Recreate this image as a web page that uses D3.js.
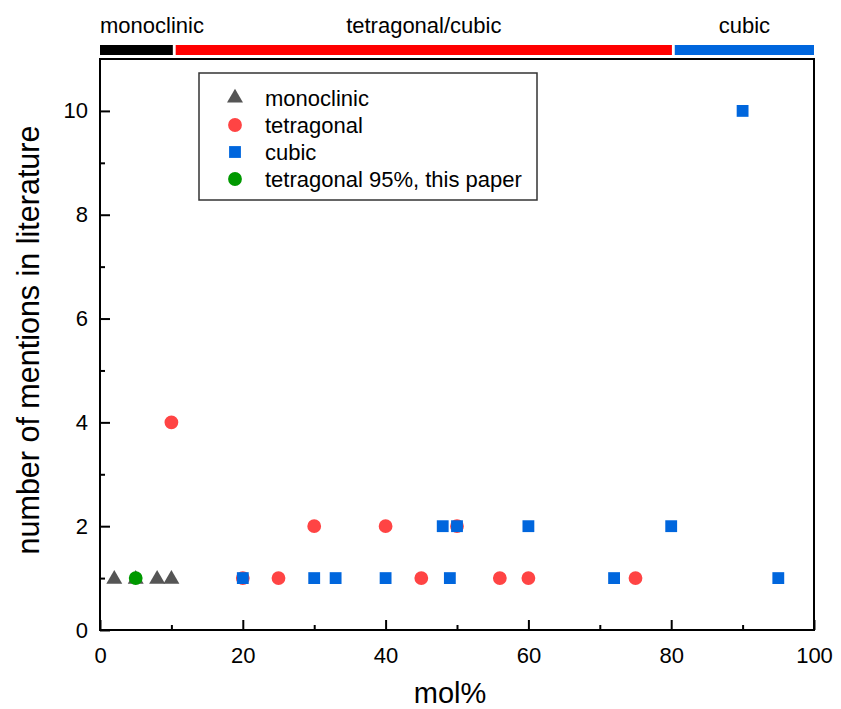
<!DOCTYPE html>
<html>
<head>
<meta charset="utf-8">
<script src="https://cdn.jsdelivr.net/npm/d3@7"></script>
<style>
  body { margin: 0; background: #fff; }
  text { font-family: "Liberation Sans", Arial, sans-serif; }
</style>
</head>
<body>
<div id="chart"></div>
<script>
// data: [mol%, mentions]
var monoclinic = [[2, 1], [5, 1], [8, 1], [10, 1]];
var tetragonal = [[10, 4], [20, 1], [25, 1], [30, 2], [40, 2], [45, 1], [50, 2], [56, 1], [60, 1], [75, 1]];
var cubic = [[20, 1], [30, 1], [33, 1], [40, 1], [48, 2], [49, 1], [50, 2], [60, 2], [72, 1], [80, 2], [90, 10], [95, 1]];
var thisPaper = [[5, 1]];

// phase ranges shown above the plot
var phases = [
  { name: "monoclinic", from: 0, to: 10.2, color: "#000000" },
  { name: "tetragonal/cubic", from: 10.6, to: 80.1, color: "#ff0000" },
  { name: "cubic", from: 80.5, to: 100, color: "#0066dd" }
];

var xTicks = [0, 20, 40, 60, 80, 100];
var yTicks = [0, 2, 4, 6, 8, 10];

var W = 841, H = 709;
var margin = {top: 59, right: 27, bottom: 79, left: 100};
var width = W - margin.left - margin.right,
    height = H - margin.top - margin.bottom;

var svg = d3.select("#chart").append("svg")
    .attr("width", W)
    .attr("height", H);

var g = svg.append("g")
    .attr("transform", "translate(" + margin.left + "," + margin.top + ")");

var x = d3.scaleLinear().domain([0, 100]).range([0, width]);
var y = d3.scaleLinear().domain([0, 11]).range([height, 0]);

// phase bar
var bar = svg.append("g").attr("transform", "translate(" + margin.left + ",0)");
bar.selectAll("rect.phase").data(phases).enter()
  .append("rect")
    .attr("class", "phase")
    .attr("x", function(d) { return x(d.from); })
    .attr("width", function(d) { return x(d.to) - x(d.from); })
    .attr("y", 45)
    .attr("height", 10)
    .attr("fill", function(d) { return d.color; });

bar.selectAll("text.phase").data(phases).enter()
  .append("text")
    .attr("class", "phase")
    .attr("x", function(d, i) { return i == 0 ? x(d.from) : (x(d.from) + x(d.to)) / 2; })
    .attr("y", 33)
    .attr("text-anchor", function(d, i) { return i == 0 ? "start" : "middle"; })
    .attr("font-size", "22px")
    .text(function(d) { return d.name; });

// axes, ticks point inward
var xAxis = g.append("g")
    .attr("transform", "translate(0," + height + ")")
    .call(d3.axisBottom(x).tickValues(xTicks).tickSize(-10).tickPadding(17));
var xMinor = g.append("g")
    .attr("transform", "translate(0," + height + ")")
    .call(d3.axisBottom(x).tickValues([10, 30, 50, 70, 90]).tickSize(-5).tickFormat(""));

var yAxis = g.append("g")
    .call(d3.axisLeft(y).tickValues(yTicks).tickSize(-10).tickPadding(12));
var yMinor = g.append("g")
    .call(d3.axisLeft(y).tickValues([1, 3, 5, 7, 9]).tickSize(-5).tickFormat(""));

[xAxis, xMinor, yAxis, yMinor].forEach(function(a) {
  a.select(".domain").remove();
  a.selectAll(".tick line").attr("stroke", "#000").attr("stroke-width", 2);
  a.selectAll(".tick text").attr("font-size", "22px").attr("fill", "#000")
    .style("font-family", "Liberation Sans, Arial, sans-serif");
});

// frame
g.append("rect")
    .attr("width", width)
    .attr("height", height)
    .attr("fill", "none")
    .attr("stroke", "#000")
    .attr("stroke-width", 2);

// axis titles
svg.append("text")
    .attr("x", 450)
    .attr("y", 703)
    .attr("text-anchor", "middle")
    .attr("font-size", "29px")
    .text("mol%");

svg.append("text")
    .attr("transform", "translate(39,340) rotate(-90)")
    .attr("text-anchor", "middle")
    .attr("font-size", "30.5px")
    .text("number of mentions in literature");

// points
var tri = d3.symbol().type(d3.symbolTriangle).size(110);
var circ = d3.symbol().type(d3.symbolCircle).size(150);
var sq = d3.symbol().type(d3.symbolSquare).size(140);

function drawSeries(data, sym, color, dy) {
  g.selectAll(null).data(data).enter()
    .append("path")
      .attr("d", sym)
      .attr("fill", color)
      .attr("transform", function(d) { return "translate(" + x(d[0]) + "," + (y(d[1]) + (dy || 0)) + ")"; });
}

drawSeries(monoclinic, tri, "#555555", 1);
drawSeries(tetragonal, circ, "#ff4444");
drawSeries(cubic, sq, "#0066dd");
drawSeries(thisPaper, circ, "#009900");

// legend
var legendItems = [
  { label: "monoclinic", sym: tri, color: "#555555" },
  { label: "tetragonal", sym: circ, color: "#ff4444" },
  { label: "cubic", sym: sq, color: "#0066dd" },
  { label: "tetragonal 95%, this paper", sym: circ, color: "#009900" }
];

var legend = svg.append("g").attr("transform", "translate(199,73)");
legend.append("rect")
    .attr("width", 338)
    .attr("height", 127)
    .attr("fill", "#fff")
    .attr("stroke", "#333")
    .attr("stroke-width", 1.5);

var li = legend.selectAll("g.item").data(legendItems).enter()
  .append("g")
    .attr("class", "item")
    .attr("transform", function(d, i) { return "translate(0," + (25 + i * 27) + ")"; });
li.append("path")
    .attr("d", function(d) { return d.sym(); })
    .attr("fill", function(d) { return d.color; })
    .attr("transform", "translate(36,0)");
li.append("text")
    .attr("x", 66)
    .attr("y", 8)
    .attr("font-size", "22px")
    .text(function(d) { return d.label; });
</script>
</body>
</html>
